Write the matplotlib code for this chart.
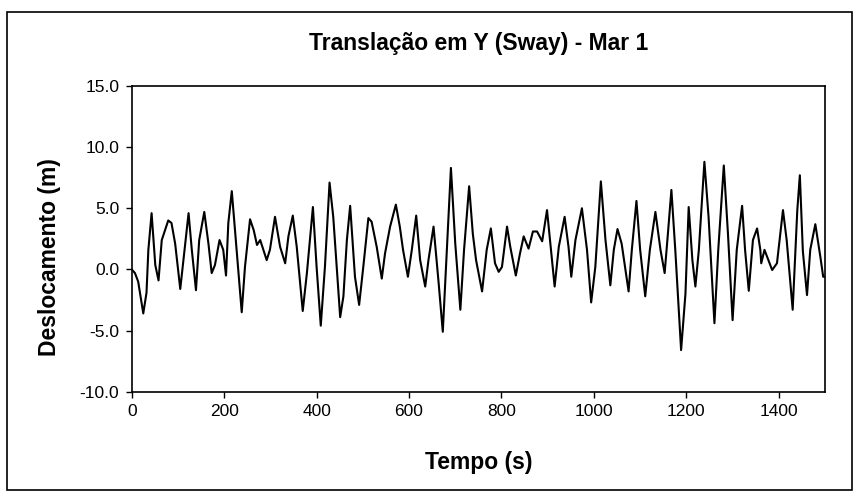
import matplotlib as mpl
mpl.use('Agg')
import matplotlib.pyplot as plt
from matplotlib.patches import Rectangle
from matplotlib.ticker import FormatStrFormatter

plt.rcParams['font.family'] = ['Liberation Sans', 'DejaVu Sans']

# tempo (s) e deslocamento (m)
tempo = [0, 7, 14, 25, 32, 36, 43, 51, 58, 65, 79, 86, 94, 105, 112, 123, 130, 139,
         146, 157, 166, 173, 180, 190, 198, 204, 209, 216.5, 227, 238, 245, 256, 264,
         271, 278, 292, 299, 310, 321, 332, 339, 348.5, 357, 370, 379, 392, 400, 409,
         418, 428, 436, 451, 458, 465.5, 472.6, 483, 492, 501, 512, 519, 530, 541, 548,
         559, 571.5, 580, 587, 597.5, 606, 615.5, 624, 635, 642, 653, 664, 673, 680,
         690.6, 700, 711, 719, 730, 738, 745, 758, 768, 777, 786, 794, 801, 812, 819,
         831, 840, 848, 858.6, 868, 877, 888, 898.5, 907, 915, 924, 936.6, 945, 951,
         960, 974, 985, 994, 1003, 1015, 1025, 1035.5, 1043, 1051, 1060, 1075, 1082,
         1092, 1100, 1111, 1121, 1133, 1144, 1153, 1160, 1167.6, 1176, 1188.6, 1198,
         1205, 1213, 1219.5, 1227, 1239, 1248, 1260.7, 1269, 1281, 1290, 1300, 1309,
         1320.6, 1327, 1335, 1344, 1353, 1360, 1362, 1369, 1385.6, 1396, 1409, 1417,
         1430, 1440, 1445.5, 1452, 1461, 1468, 1479, 1490, 1496, 1500]
desloc = [0.0, -0.3, -1.0, -3.6, -1.9, 1.6, 4.6, 0.35, -0.9, 2.4, 4.0, 3.8, 2.1, -1.6,
          0.8, 4.6, 1.6, -1.7, 2.4, 4.7, 2.1, -0.3, 0.35, 2.4, 1.6, -0.5, 3.8, 6.4, 1.6,
          -3.5, 0.2, 4.1, 3.2, 2.0, 2.4, 0.76, 1.6, 4.3, 1.85, 0.5, 2.7, 4.4, 1.85, -3.4,
          -0.3, 5.1, 0.2, -4.6, 0.2, 7.1, 4.3, -3.9, -2.2, 2.4, 5.2, -0.6, -2.9, 0.2, 4.2,
          3.9, 1.85, -0.75, 1.3, 3.5, 5.3, 3.5, 1.6, -0.6, 1.6, 4.4, 0.76, -1.4, 0.76,
          3.5, -1.1, -5.1, 0.2, 8.3, 2.1, -3.3, 1.6, 6.8, 2.9, 0.76, -1.8, 1.6, 3.35, 0.5,
          -0.2, 0.2, 3.5, 1.85, -0.5, 1.3, 2.7, 1.7, 3.1, 3.1, 2.3, 4.85, 1.6, -1.4, 1.85,
          4.3, 1.85, -0.6, 2.4, 5.0, 1.6, -2.7, 0.2, 7.2, 2.4, -1.3, 1.6, 3.3, 2.1, -1.8,
          1.6, 5.6, 1.6, -2.2, 1.6, 4.7, 1.6, -0.3, 2.9, 6.5, 1.6, -6.6, -2.0, 5.1, 0.76,
          -1.4, 1.6, 8.8, 4.3, -4.4, 1.6, 8.5, 2.9, -4.15, 1.6, 5.2, 1.6, -1.75, 2.4,
          3.35, 1.6, 0.5, 1.6, -0.05, 0.5, 4.85, 2.4, -3.3, 4.85, 7.7, 1.5, -2.1, 1.6,
          3.7, 1.0, -0.6, -0.6]

fig = plt.figure(figsize=(8.57, 4.95), dpi=100)
ax = fig.add_axes([0.1537, 0.2087, 0.8090, 0.6176])

ax.plot(tempo, desloc, color='black', linewidth=1.5, solid_joinstyle='round')

ax.set_xlim(0, 1500)
ax.set_ylim(-10, 15)
ax.set_xticks(range(0, 1401, 200))
ax.set_yticks([-10, -5, 0, 5, 10, 15])
ax.yaxis.set_major_formatter(FormatStrFormatter('%.1f'))
ax.tick_params(direction='out', length=4, width=1, labelsize=12.5, pad=5)
for s in ax.spines.values():
    s.set_linewidth(1.2)

ax.set_title('Translação em Y (Sway) - Mar 1', fontsize=16.5, fontweight='bold', pad=26)
ax.set_xlabel('Tempo (s)', fontsize=16.5, fontweight='bold')
ax.set_ylabel('Deslocamento (m)', fontsize=16.5, fontweight='bold')
ax.xaxis.set_label_coords(0.5, -0.195)
ax.yaxis.set_label_coords(-0.102, 0.44)

fig.patches.append(Rectangle((7 / 857, 1 - 490 / 495), 845 / 857, 478 / 495,
                             transform=fig.transFigure, fill=False,
                             edgecolor='black', linewidth=1.2))

plt.savefig('out.png', dpi=100)
plt.close()
